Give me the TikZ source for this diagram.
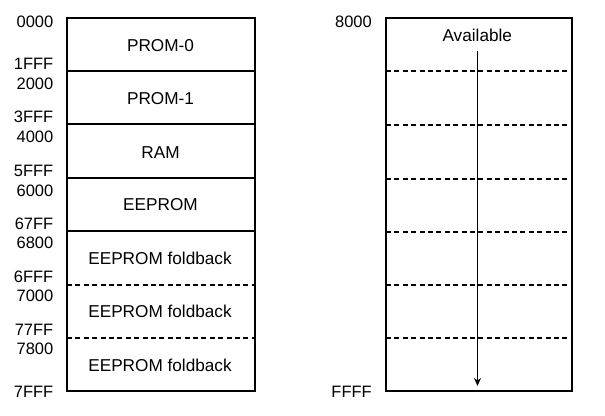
\documentclass[tikz,border=0pt]{standalone}
\usepackage{fontspec}
\setmainfont{Liberation Sans}
\usetikzlibrary{arrows.meta}
\begin{document}
\begin{tikzpicture}[x=1pt,y=-1pt,
  every node/.style={font=\fontsize{16.5}{18}\selectfont, inner sep=0pt},
  addr/.style={anchor=east},
  region/.style={anchor=center, font=\fontsize{17.2}{19}\selectfont},
  outline/.style={line width=2pt},
  divider/.style={line width=1.7pt},
  fold/.style={line width=1.6pt, dash pattern=on 5pt off 3.4pt},
  flow/.style={line width=1.1pt, -{Stealth[length=8pt,width=7pt]}}]
  \useasboundingbox (0,0) rectangle (605,415);

  % ---- lower half of the address space (0000-7FFF) ----
  \coordinate (LT) at (67,18);
  \coordinate (LB) at (255,391);
  \draw[outline] (LT) rectangle (LB);
  \draw[divider] (67,71)  -- (255,71);
  \draw[divider] (67,124) -- (255,124);
  \draw[divider] (67,178) -- (255,178);
  \draw[divider] (67,231) -- (255,231);
  \draw[fold]    (67,285) -- (255,285);
  \draw[fold]    (67,338) -- (255,338);

  \node[region] (prom0) at (160.5,45.8)  {PROM-0};
  \node[region] (prom1) at (160.5,99)    {PROM-1};
  \node[region] (ram)   at (160.5,152.3) {RAM};
  \node[region] (eep)   at (160.5,205)   {EEPROM};
  \node[region] (fb1)   at (160,258.8)   {EEPROM foldback};
  \node[region] (fb2)   at (160,311.8)   {EEPROM foldback};
  \node[region] (fb3)   at (160,365)     {EEPROM foldback};

  \node[addr] (a0000) at (53.5,21.7)  {0000};
  \node[addr] (a1FFF) at (53.5,63.6)  {1FFF};
  \node[addr] (a2000) at (53.5,83.5)  {2000};
  \node[addr] (a3FFF) at (53.5,116.9) {3FFF};
  \node[addr] (a4000) at (53.5,136.8) {4000};
  \node[addr] (a5FFF) at (53.5,170.5) {5FFF};
  \node[addr] (a6000) at (53.5,190.5) {6000};
  \node[addr] (a67FF) at (53.5,223.8) {67FF};
  \node[addr] (a6800) at (53.5,243.3) {6800};
  \node[addr] (a6FFF) at (53.5,276.5) {6FFF};
  \node[addr] (a7000) at (53.5,296)   {7000};
  \node[addr] (a77FF) at (53.5,330.3) {77FF};
  \node[addr] (a7800) at (53.5,348.5) {7800};
  \node[addr] (a7FFF) at (53.5,391.7) {7FFF};

  % ---- upper half (8000-FFFF), free space ----
  \coordinate (RT) at (386,18);
  \coordinate (RB) at (572,391);
  \draw[outline] (RT) rectangle (RB);
  \draw[fold] (386,71)  -- (572,71);
  \draw[fold] (386,125) -- (572,125);
  \draw[fold] (386,179) -- (572,179);
  \draw[fold] (386,232) -- (572,232);
  \draw[fold] (386,285) -- (572,285);
  \draw[fold] (386,338) -- (572,338);

  \node[region] (avail) at (477.3,35) {Available};
  \coordinate (flowtop) at (477.5,50.7);
  \coordinate (flowend) at (477.5,386);
  \draw[flow] (flowtop) -- (flowend);

  \node[addr] (a8000) at (372,21.7)  {8000};
  \node[addr] (aFFFF) at (372,391.7) {FFFF};
\end{tikzpicture}
\end{document}
